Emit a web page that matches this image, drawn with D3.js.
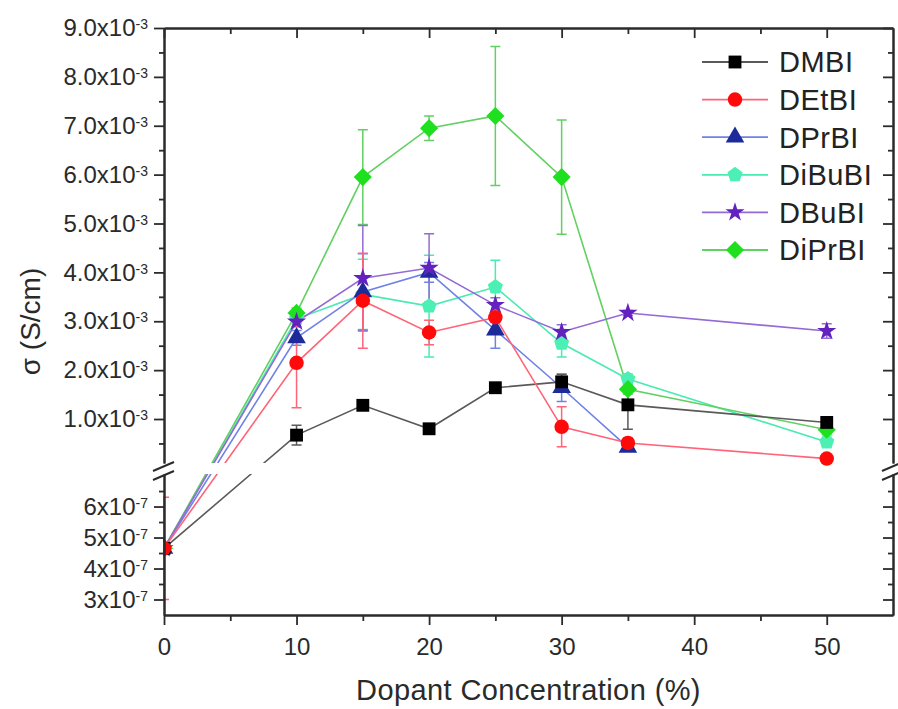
<!DOCTYPE html>
<html>
<head>
<meta charset="utf-8">
<script src="https://cdn.jsdelivr.net/npm/d3@7"></script>
<style>
  body { margin: 0; background: #fff; }
  svg { display: block; font-family: "Liberation Sans", Arial, Helvetica, sans-serif; }
</style>
</head>
<body>
<script>
// ---------- DATA ----------
const concentrations = [0, 10, 15, 20, 25, 30, 35, 50];
const seriesNames = ["DMBI", "DEtBI", "DPrBI", "DiBuBI", "DBuBI", "DiPrBI"];

const DMBI      = [4.65e-7, 0.67e-3, 1.28e-3, 0.80e-3, 1.64e-3, 1.76e-3, 1.29e-3, 0.93e-3];
const DMBI_err  = [0, 0.20e-3, 0.06e-3, 0.05e-3, 0.06e-3, 0.15e-3, 0.50e-3, 0.10e-3];
const DEtBI     = [4.65e-7, 2.15e-3, 3.42e-3, 2.77e-3, 3.08e-3, 0.84e-3, 0.51e-3, 0.19e-3];
const DEtBI_err = [1.65e-7, 0.92e-3, 0.97e-3, 0.25e-3, 0.30e-3, 0.41e-3, 0.10e-3, 0.03e-3];
const DPrBI     = [4.65e-7, 2.66e-3, 3.60e-3, 4.00e-3, 2.82e-3, 1.64e-3, 0.42e-3, null];
const DPrBI_err = [0, 0.15e-3, 0.78e-3, 0.20e-3, 0.37e-3, 0.28e-3, 0.05e-3, 0];
const DiBuBI     = [4.65e-7, 3.05e-3, 3.55e-3, 3.31e-3, 3.70e-3, 2.55e-3, 1.82e-3, 0.53e-3];
const DiBuBI_err = [0, 0.10e-3, 0.72e-3, 1.04e-3, 0.55e-3, 0.28e-3, 0.10e-3, 0.10e-3];
const DBuBI     = [4.65e-7, 2.99e-3, 3.88e-3, 4.09e-3, 3.33e-3, 2.78e-3, 3.17e-3, 2.80e-3];
const DBuBI_err = [0, 0.10e-3, 1.08e-3, 0.70e-3, 0.15e-3, 0.15e-3, 0.05e-3, 0.15e-3];
const DiPrBI     = [4.65e-7, 3.17e-3, 5.95e-3, 6.95e-3, 7.20e-3, 5.95e-3, 1.61e-3, 0.78e-3];
const DiPrBI_err = [0, 0.10e-3, 0.97e-3, 0.25e-3, 1.42e-3, 1.17e-3, 0.10e-3, 0.10e-3];

const xTicksMajor = [0, 10, 20, 30, 40, 50];
const xTicksMinor = [5, 15, 25, 35, 45];
const yUpperMajor = [1e-3, 2e-3, 3e-3, 4e-3, 5e-3, 6e-3, 7e-3, 8e-3, 9e-3];
const yUpperMinor = [0.5e-3, 1.5e-3, 2.5e-3, 3.5e-3, 4.5e-3, 5.5e-3, 6.5e-3, 7.5e-3, 8.5e-3];
const yLowerMajor = [3e-7, 4e-7, 5e-7, 6e-7];
const yLowerMinor = [3.5e-7, 4.5e-7, 5.5e-7, 6.5e-7];

const xTitle = "Dopant Concentration (%)";
const yTitle = "σ (S/cm)";

// ---------- STYLE ----------
const markerColors = { DMBI: "#000000", DEtBI: "#ff0a0a", DPrBI: "#1d2a9a", DiBuBI: "#4cf0b4", DBuBI: "#6322c0", DiPrBI: "#1ee01e" };
const lineColors   = { DMBI: "#5a5a5a", DEtBI: "#ff6478", DPrBI: "#6f82e6", DiBuBI: "#4aeab0", DBuBI: "#946ad6", DiPrBI: "#62d062" };

const symPentagon = { draw(ctx, size) {
  const r = Math.sqrt(size / (2.5 * Math.sin(2 * Math.PI / 5)));
  for (let i = 0; i < 5; i++) {
    const a = -Math.PI / 2 + i * 2 * Math.PI / 5;
    const px = r * Math.cos(a), py = r * Math.sin(a);
    if (i === 0) ctx.moveTo(px, py); else ctx.lineTo(px, py);
  }
  ctx.closePath();
}};
const symDiamond = { draw(ctx, size) {
  const r = Math.sqrt(size / 2);
  ctx.moveTo(0, -r); ctx.lineTo(r, 0); ctx.lineTo(0, r); ctx.lineTo(-r, 0); ctx.closePath();
}};
const symbols = {
  DMBI: [d3.symbolSquare, 165], DEtBI: [d3.symbolCircle, 165], DPrBI: [d3.symbolTriangle, 150],
  DiBuBI: [symPentagon, 150], DBuBI: [d3.symbolStar, 115], DiPrBI: [symDiamond, 165]
};

const valuesOf = { DMBI, DEtBI, DPrBI, DiBuBI, DBuBI, DiPrBI };
const errorsOf = { DMBI: DMBI_err, DEtBI: DEtBI_err, DPrBI: DPrBI_err, DiBuBI: DiBuBI_err, DBuBI: DBuBI_err, DiPrBI: DiPrBI_err };
const drawOrder = ["DiBuBI", "DiPrBI", "DPrBI", "DBuBI", "DMBI", "DEtBI"];

// ---------- SCALES ----------
const W = 898, H = 709;
const xL = 164, xR = 893, yTop = 28, yBot = 615, gapTop = 463, gapBot = 474;
const x = d3.scaleLinear().domain([0, 55]).range([xL, xR]);
const yUp = d3.scaleLinear().domain([0.1e-3, 9e-3]).range([gapTop, yTop]);
const yLo = d3.scaleLinear().domain([2.5e-7, 7.05e-7]).range([yBot, gapBot]);
const y = v => (v >= 5e-5 ? yUp(v) : yLo(v));

const svg = d3.select("body").append("svg").attr("width", W).attr("height", H);
svg.append("rect").attr("width", W).attr("height", H).attr("fill", "#fff");

const defs = svg.append("defs");
const cpL = defs.append("clipPath").attr("id", "clipLines");
cpL.append("rect").attr("x", xL).attr("y", yTop).attr("width", xR - xL).attr("height", gapTop - yTop);
cpL.append("rect").attr("x", xL).attr("y", gapBot).attr("width", xR - xL).attr("height", yBot - gapBot);
defs.append("clipPath").attr("id", "clipMarks").append("rect")
  .attr("x", xL - 1).attr("y", yTop).attr("width", xR - xL + 1).attr("height", yBot - yTop);

// ---------- DATA MARKS ----------
const lineGen = d3.line().defined(d => d.v != null).x(d => x(d.c)).y(d => y(d.v));
const rows = name => concentrations.map((c, i) => ({ c, v: valuesOf[name][i], e: errorsOf[name][i] }));

const gLines = svg.append("g").attr("clip-path", "url(#clipLines)");
const gErr = svg.append("g").attr("clip-path", "url(#clipMarks)");
const gMarks = svg.append("g").attr("clip-path", "url(#clipMarks)");

drawOrder.forEach(name => {
  const data = rows(name);
  gLines.append("path").datum(data).attr("d", lineGen)
    .attr("fill", "none").attr("stroke", lineColors[name]).attr("stroke-width", 1.6);

  const eb = data.filter(d => d.v != null && d.e > 0);
  const cap = 5;
  const ge = gErr.append("g").attr("stroke", lineColors[name]).attr("stroke-width", 1.5).attr("fill", "none");
  ge.selectAll("path").data(eb).join("path")
    .attr("d", d => {
      const cx = x(d.c), y1 = y(d.v + d.e), y2 = y(d.v - d.e);
      return `M${cx},${y1}V${y2}M${cx - cap},${y1}H${cx + cap}M${cx - cap},${y2}H${cx + cap}`;
    });

  const [type, size] = symbols[name];
  gMarks.append("g").selectAll("path").data(data.filter(d => d.v != null)).join("path")
    .attr("transform", d => `translate(${x(d.c)},${y(d.v)})`)
    .attr("d", d3.symbol().type(type).size(size))
    .attr("fill", markerColors[name]);
});

// ---------- AXES ----------
const axisColor = "#2b2b2b";
function styleAxis(g) {
  g.selectAll(".domain").attr("stroke", axisColor).attr("stroke-width", 2);
  g.selectAll(".tick line").attr("stroke", axisColor).attr("stroke-width", 1.8);
  g.selectAll(".tick text").attr("fill", "#2a2a2a").attr("font-size", 24);
}
function addSup(g, exp) {
  g.selectAll(".tick text").each(function () {
    d3.select(this).append("tspan").attr("dy", "-0.5em").attr("font-size", 14).text(exp);
  });
}

// Left upper
const gLU = svg.append("g").attr("transform", `translate(${xL},0)`)
  .call(d3.axisLeft(yUp).tickValues(yUpperMajor).tickSize(10).tickSizeOuter(0).tickPadding(6)
    .tickFormat(d => (d * 1e3).toFixed(1) + "x10"));
styleAxis(gLU); addSup(gLU, "-3");
const gLUm = svg.append("g").attr("transform", `translate(${xL},0)`)
  .call(d3.axisLeft(yUp).tickValues(yUpperMinor).tickSize(5).tickSizeOuter(0).tickFormat(""));
styleAxis(gLUm);
// Left lower
const gLL = svg.append("g").attr("transform", `translate(${xL},0)`)
  .call(d3.axisLeft(yLo).tickValues(yLowerMajor).tickSize(10).tickSizeOuter(0).tickPadding(6)
    .tickFormat(d => Math.round(d * 1e7) + "x10"));
styleAxis(gLL); addSup(gLL, "-7");
const gLLm = svg.append("g").attr("transform", `translate(${xL},0)`)
  .call(d3.axisLeft(yLo).tickValues(yLowerMinor).tickSize(5).tickSizeOuter(0).tickFormat(""));
styleAxis(gLLm);

// Right (mirror, inward)
[[yUp, yUpperMajor, 10], [yUp, yUpperMinor, 5], [yLo, yLowerMajor, 10], [yLo, yLowerMinor, 5]].forEach(([s, tv, ts]) => {
  const g = svg.append("g").attr("transform", `translate(${xR},0)`)
    .call(d3.axisLeft(s).tickValues(tv).tickSize(ts).tickSizeOuter(0).tickFormat(""));
  styleAxis(g);
});

// Bottom
const gB = svg.append("g").attr("transform", `translate(0,${yBot})`)
  .call(d3.axisBottom(x).tickValues(xTicksMajor).tickSize(10).tickSizeOuter(0).tickPadding(13).tickFormat(d3.format("d")));
styleAxis(gB);
const gBm = svg.append("g").attr("transform", `translate(0,${yBot})`)
  .call(d3.axisBottom(x).tickValues(xTicksMinor).tickSize(6).tickSizeOuter(0).tickFormat(""));
styleAxis(gBm);
// Top (mirror, inward)
const gT = svg.append("g").attr("transform", `translate(0,${yTop})`)
  .call(d3.axisBottom(x).tickValues(xTicksMajor).tickSize(10).tickSizeOuter(0).tickFormat(""));
styleAxis(gT);
const gTm = svg.append("g").attr("transform", `translate(0,${yTop})`)
  .call(d3.axisBottom(x).tickValues(xTicksMinor).tickSize(6).tickSizeOuter(0).tickFormat(""));
styleAxis(gTm);

// Break marks
[xL, xR].forEach(ax => {
  const g = svg.append("g").attr("stroke", axisColor).attr("stroke-width", 2).attr("fill", "none");
  g.append("line").attr("x1", ax - 11).attr("y1", gapTop + 8).attr("x2", ax + 10).attr("y2", gapTop - 1);
  g.append("line").attr("x1", ax - 11).attr("y1", gapBot + 6).attr("x2", ax + 10).attr("y2", gapBot - 3);
});

// Titles
svg.append("text").attr("x", (xL + xR) / 2).attr("y", 700).attr("text-anchor", "middle")
  .attr("font-size", 29).attr("letter-spacing", 0.4).attr("fill", "#2a2a2a").text(xTitle);
svg.append("text").attr("transform", `translate(40,${(yTop + yBot) / 2}) rotate(-90)`)
  .attr("text-anchor", "middle").attr("font-size", 28).attr("fill", "#2a2a2a").text(yTitle);

// ---------- LEGEND ----------
const legendY = d3.scalePoint().domain(seriesNames).range([62, 250]);
const gLeg = svg.append("g");
seriesNames.forEach(name => {
  const ly = legendY(name);
  gLeg.append("line").attr("x1", 702).attr("x2", 768).attr("y1", ly).attr("y2", ly)
    .attr("stroke", lineColors[name]).attr("stroke-width", 1.8);
  const [type, size] = symbols[name];
  gLeg.append("path").attr("transform", `translate(735,${ly})`)
    .attr("d", d3.symbol().type(type).size(size)).attr("fill", markerColors[name]);
  gLeg.append("text").attr("x", 779).attr("y", ly).attr("dy", "0.36em")
    .attr("font-size", 29).attr("letter-spacing", 0.5).attr("fill", "#222").text(name);
});
</script>
</body>
</html>
